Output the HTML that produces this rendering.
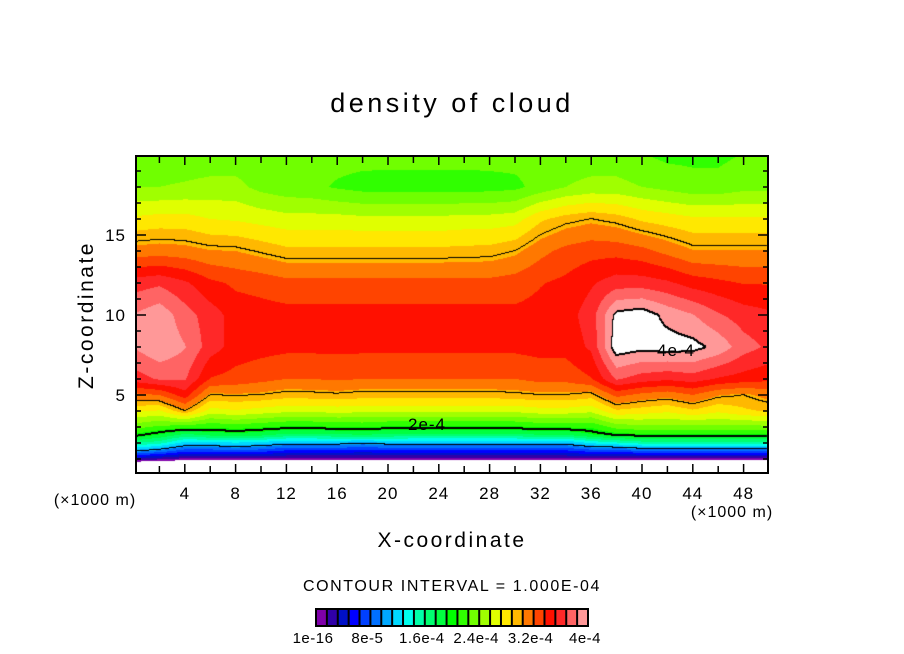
<!DOCTYPE html>
<html><head><meta charset="utf-8"><style>
html,body{margin:0;padding:0;background:#fff;width:904px;height:654px;overflow:hidden}
#wrap{position:relative;width:904px;height:654px}
canvas,svg{position:absolute;left:0;top:0}
text{font-family:"Liberation Sans",sans-serif;fill:#000}
</style></head><body>
<div id="wrap">
<canvas id="cv" width="904" height="654"></canvas>
<svg id="sv" width="904" height="654"></svg>
</div>
<script>
// ---- data ----
const xCols = [0,2,4,6,8,10,12,14,16,18,20,22,24,26,28,30,32,34,36,38,40,42,44,46,48,50];
const zLevels = [0.5,1,1.5,2,2.5,3,4,5,6,8,10,12,14,16,18,20];
// density (units 1e-4), one row per x column, values at zLevels
const density = [
[-0.6,0.3,1.05,1.6,2.05,2.3,2.75,3.15,3.6,3.85,3.85,3.6,3.1,2.75,2.4,2.3],
[-0.6,0.2,0.9,1.5,1.9,2.2,2.7,3.2,3.7,3.97,3.95,3.65,3.12,2.78,2.4,2.3],
[-0.6,0.1,0.7,1.2,1.7,2.15,3.0,3.45,3.7,3.85,3.75,3.55,3.1,2.78,2.42,2.3],
[-0.6,0.1,0.7,1.2,1.8,2.1,2.65,3.0,3.35,3.6,3.6,3.4,3.05,2.72,2.45,2.3],
[-0.6,0.1,0.75,1.25,1.85,2.15,2.7,3.02,3.3,3.45,3.45,3.33,3.04,2.7,2.45,2.3],
[-0.6,0.1,0.7,1.2,1.8,2.1,2.65,3.0,3.25,3.42,3.43,3.3,2.98,2.66,2.35,2.3],
[-0.6,0.1,0.6,1.1,1.7,2.05,2.6,2.95,3.2,3.4,3.42,3.25,2.92,2.62,2.3,2.3],
[-0.6,0.1,0.6,1.1,1.7,2.05,2.6,2.96,3.2,3.4,3.42,3.25,2.92,2.62,2.28,2.3],
[-0.6,0.1,0.6,1.1,1.72,2.08,2.62,2.98,3.22,3.4,3.42,3.25,2.92,2.62,2.22,2.3],
[-0.6,0.1,0.55,1.05,1.75,2.1,2.6,2.95,3.2,3.4,3.42,3.25,2.92,2.6,2.18,2.3],
[-0.6,0.1,0.6,1.1,1.72,2.05,2.6,2.95,3.2,3.4,3.42,3.25,2.92,2.6,2.17,2.3],
[-0.6,0.1,0.6,1.1,1.7,2.05,2.6,2.95,3.2,3.4,3.42,3.25,2.92,2.6,2.17,2.3],
[-0.6,0.1,0.6,1.1,1.7,2.05,2.6,2.95,3.2,3.4,3.42,3.25,2.92,2.6,2.17,2.3],
[-0.6,0.1,0.6,1.1,1.7,2.05,2.6,2.95,3.2,3.4,3.42,3.25,2.93,2.62,2.17,2.3],
[-0.6,0.1,0.6,1.1,1.7,2.05,2.6,2.95,3.2,3.4,3.42,3.25,2.94,2.62,2.18,2.3],
[-0.6,0.1,0.6,1.1,1.7,2.05,2.6,2.97,3.2,3.4,3.4,3.28,3.0,2.65,2.2,2.3],
[-0.6,0.1,0.6,1.1,1.75,2.1,2.65,3.0,3.25,3.42,3.42,3.35,3.15,2.85,2.3,2.3],
[-0.6,0.1,0.6,1.1,1.75,2.1,2.65,3.0,3.25,3.42,3.45,3.4,3.25,2.95,2.4,2.3],
[-0.6,0.1,0.7,1.3,1.9,2.1,2.6,2.95,3.35,3.55,3.6,3.5,3.3,3.0,2.45,2.3],
[-0.6,0.1,0.7,1.4,2.0,2.3,2.85,3.25,3.7,4.1,4.05,3.6,3.3,2.95,2.45,2.3],
[-0.6,0.1,0.8,1.5,2.05,2.35,2.8,3.15,3.6,4.05,4.1,3.6,3.25,2.85,2.4,2.25],
[-0.6,0.1,0.8,1.5,2.05,2.35,2.75,3.1,3.55,4.08,3.95,3.55,3.15,2.8,2.35,2.2],
[-0.6,0.1,0.8,1.5,2.05,2.35,2.85,3.2,3.6,4.06,3.85,3.45,3.05,2.75,2.3,2.2],
[-0.6,0.1,0.8,1.5,2.05,2.35,2.75,3.05,3.5,3.95,3.7,3.4,3.05,2.75,2.3,2.2],
[-0.6,0.1,0.8,1.5,2.05,2.35,2.85,3.0,3.45,3.75,3.6,3.35,3.05,2.75,2.35,2.25],
[-0.6,0.1,0.8,1.5,2.05,2.35,2.9,3.1,3.4,3.65,3.55,3.35,3.05,2.75,2.35,2.25]
];
const contourLevels = [1,2,3,4];
const xTickLabels = [4,8,12,16,20,24,28,32,36,40,44,48];
const zTickLabels = [5,10,15];
const colorbarLabels = ["1e-16","8e-5","1.6e-4","2.4e-4","3.2e-4","4e-4"];
const palette = ["#7f00aa","#3000a8","#0010c8","#0000ff","#0040ff","#0070ff","#00a8ff","#00d8ff","#00ffee","#00ffa8","#00ff70","#00ff40","#00ff00","#30ff00","#70ff00","#a0ff00","#e0ff00","#ffe800","#ffb800","#ff7800","#ff4400","#ff1000","#ff2828","#ff6464","#ff9898"];
const bandStep = 0.16;

// ---- scales ----
const PL=136, PR=768, PT=156, PB=473;
function X(x){return 134 + x*12.7;}
function Z(z){return 475 - z*16;}
function invX(px){return (px-134)/12.7;}
function invZ(py){return (475-py)/16;}

function seg(arr,v){
  if(v<=arr[0]) return [0,0];
  if(v>=arr[arr.length-1]) return [arr.length-2,1];
  for(let i=0;i<arr.length-1;i++) if(v<=arr[i+1]) return [i,(v-arr[i])/(arr[i+1]-arr[i])];
}
function val(x,z){
  const [i,tx]=seg(xCols,x), [j,tz]=seg(zLevels,z);
  const a=density[i][j],b=density[i+1][j],c=density[i][j+1],d=density[i+1][j+1];
  return (a*(1-tx)+b*tx)*(1-tz)+(c*(1-tx)+d*tx)*tz;
}
function hex(h){return [parseInt(h.substr(1,2),16),parseInt(h.substr(3,2),16),parseInt(h.substr(5,2),16)];}
const rgb = palette.map(hex);

// ---- draw field ----
const cv=document.getElementById('cv'), ctx=cv.getContext('2d');
const W=PR-PL, H=PB-PT;
const V=new Float32Array(W*H);
for(let py=0;py<H;py++) for(let px=0;px<W;px++) V[py*W+px]=val(invX(PL+px+0.5),invZ(PT+py+0.5));
const img=ctx.createImageData(W,H);
for(let k=0;k<W*H;k++){
  const v=V[k]; let c;
  if(v<0||v>=4.0) c=[255,255,255];
  else c=rgb[Math.min(24,Math.floor(v/bandStep))];
  img.data[k*4]=c[0];img.data[k*4+1]=c[1];img.data[k*4+2]=c[2];img.data[k*4+3]=255;
}
function blk(px,py){ if(px<0||py<0||px>=W||py>=H) return; const k=(py*W+px)*4; img.data[k]=0;img.data[k+1]=0;img.data[k+2]=0; }
contourLevels.forEach(L=>{
  const thick = (L===2||L===4);
  for(let py=0;py<H-1;py++) for(let px=0;px<W-1;px++){
    const a=V[py*W+px]>=L, b=V[py*W+px+1]>=L, c=V[(py+1)*W+px]>=L;
    if(a!==b||a!==c){ blk(px,py); if(thick){blk(px,py+1);} }
  }
});
ctx.putImageData(img,PL,PT);

// ---- SVG overlay ----
const NS="http://www.w3.org/2000/svg", sv=document.getElementById('sv');
function mk(tag,attrs,parent){const e=document.createElementNS(NS,tag);for(const k in attrs)e.setAttribute(k,attrs[k]);(parent||sv).appendChild(e);return e;}
function txt(s,x,y,size,anchor,name,ls){const t=mk('text',{x:x,y:y,'font-size':size,'text-anchor':anchor||'middle','letter-spacing':ls||0});t.textContent=s;


return t;}

const frame=mk('rect',{x:PL,y:PT,width:W,height:H,fill:'none',stroke:'#000','stroke-width':2});



const ticks=mk('g',{stroke:'#000','stroke-width':1.5});


for(let x=2;x<50;x+=2){
  const p=X(x), len=(x%4===0)?9:7;
  mk('line',{x1:p,y1:PB,x2:p,y2:PB-len},ticks);
  mk('line',{x1:p,y1:PT,x2:p,y2:PT+len},ticks);
}
for(let z=1;z<20;z++){
  const p=Z(z), len=(z%5===0)?10:5;
  mk('line',{x1:PL,y1:p,x2:PL+len,y2:p},ticks);
  mk('line',{x1:PR,y1:p,x2:PR-len,y2:p},ticks);
}
xTickLabels.forEach(v=>txt(String(v),X(v),499,17,'middle','x-tick-label',1));
zTickLabels.forEach(v=>txt(String(v),126,Z(v)+6,17,'end','z-tick-label',1));

txt('density of cloud',452,112,27,'middle','chart-title',3.5);
txt('X-coordinate',452,547,21,'middle','x-axis-title',2.5);
const zt=txt('Z-coordinate',0,0,21,'middle','z-axis-title',2.5);
zt.setAttribute('transform','translate(93,315) rotate(-90)');
txt('(×1000 m)',95,505,16,'middle','z-unit-label',1);
txt('(×1000 m)',732,517,16,'middle','x-unit-label',1);
txt('2e-4',427,430,17,'middle','contour-label-2e-4',1);
txt('4e-4',676,356,17,'middle','contour-label-4e-4',1);
txt('CONTOUR INTERVAL = 1.000E-04',452,591,16,'middle','contour-interval-note',1.6);

// colorbar
const cb=mk('g',{});


const cbX=316, cbY=609, cbW=272, cbH=17, bw=cbW/palette.length;
mk('rect',{x:cbX-1,y:cbY-1,width:cbW+2,height:cbH+2,fill:'#000'},cb);
palette.forEach((c,i)=>{
  const r=mk('rect',{x:cbX+i*bw+1,y:cbY+1,width:bw-2,height:cbH-2,fill:c},cb);
  
  
});
colorbarLabels.forEach((s,i)=>txt(s,cbX+i*5*bw-3,643,15,'middle','colorbar-label',0.5));
</script>
</body></html>
